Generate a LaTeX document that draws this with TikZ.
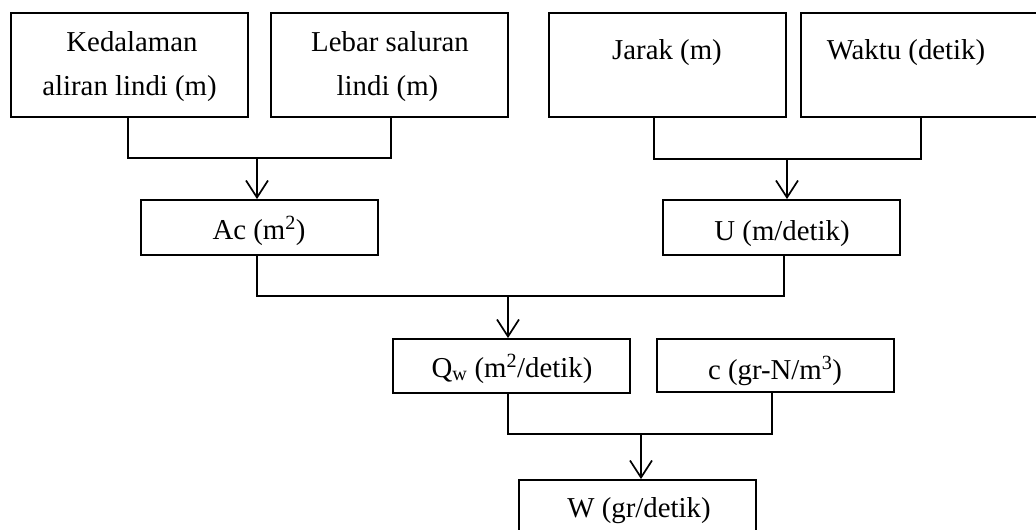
\documentclass[tikz,border=0pt]{standalone}
\usepackage{fontspec}
\setmainfont{Liberation Serif}
\usetikzlibrary{arrows.meta}

\tikzset{
  box/.style={draw, line width=1.9pt, minimum width=237pt, inner sep=0pt},
  lbl/.style={anchor=base, inner sep=0pt, font=\fontsize{28.8}{34}\selectfont},
  conn/.style={line width=1.5pt},
  arr/.style={line width=1.5pt, -{Straight Barb[length=17pt, width=22pt, line width=1.7pt]}},
}

\begin{document}
\begin{tikzpicture}[x=1pt, y=-1pt]
\useasboundingbox (0,0) rectangle (1036,530);

% input quantities
\node[box, minimum height=104pt] (ked) at (129.5,65) {};
\node[box, minimum height=104pt] (leb) at (389.5,65) {};
\node[box, minimum height=104pt] (jar) at (667.5,65) {};
\node[box, minimum height=104pt] (wak) at (919.5,65) {};

% intermediate quantities
\node[box, minimum height=55pt] (ac) at (259.5,227.5) {};
\node[box, minimum height=55pt] (u)  at (781.5,227.5) {};
\node[box, minimum height=54pt] (qw) at (511.5,366) {};
\node[box, minimum height=53pt] (c)  at (775.5,365.5) {};

% result
\node[box, minimum height=54pt] (w) at (637.5,507) {};

% labels
\node[lbl] (kedA) at (132,51) {Kedalaman};
\node[lbl] (kedB) at (129.5,95) {aliran lindi (m)};
\node[lbl] (lebA) at (390,51) {Lebar saluran};
\node[lbl] (lebB) at (387.5,95) {lindi (m)};
\node[lbl] (jarT) at (667,59) {Jarak (m)};
\node[lbl] (wakT) at (906,59) {Waktu (detik)};
\node[lbl] (acT)  at (259,239) {Ac (m\textsuperscript{2})};
\node[lbl] (uT)   at (782,240) {U (m/detik)};
\node[lbl] (qwT)  at (512,377) {Q\textsubscript{w} (m\textsuperscript{2}/detik)};
\node[lbl] (cT)   at (775,379) {c (gr-N/m\textsuperscript{3})};
\node[lbl] (wT)   at (639,517) {W (gr/detik)};

% joints of the connectors
\coordinate (j1) at ([xshift=-2.5pt]ac.north |- 0,158);
\coordinate (j2) at ([xshift=5.5pt]u.north |- 0,159);
\coordinate (j3) at ([xshift=-3.5pt]qw.north |- 0,296);
\coordinate (j4) at ([xshift=3.5pt]w.north |- 0,434);

% depth and width -> Ac
\draw[conn] ([xshift=-1.5pt]ked.south) |- (j1) -| ([xshift=1.5pt]leb.south);
\draw[arr] (j1) -- (j1 |- ac.north);

% distance and time -> U
\draw[conn] ([xshift=-13.5pt]jar.south) |- (j2) -| ([xshift=1.5pt]wak.south);
\draw[arr] (j2) -- (j2 |- u.north);

% Ac and U -> Qw
\draw[conn] ([xshift=-2.5pt]ac.south) |- (j3) -| ([xshift=2.5pt]u.south);
\draw[arr] (j3) -- (j3 |- qw.north);

% Qw and c -> W
\draw[conn] ([xshift=-3.5pt]qw.south) |- (j4) -| ([xshift=-3.5pt]c.south);
\draw[arr] (j4) -- (j4 |- w.north);
\end{tikzpicture}
\end{document}
